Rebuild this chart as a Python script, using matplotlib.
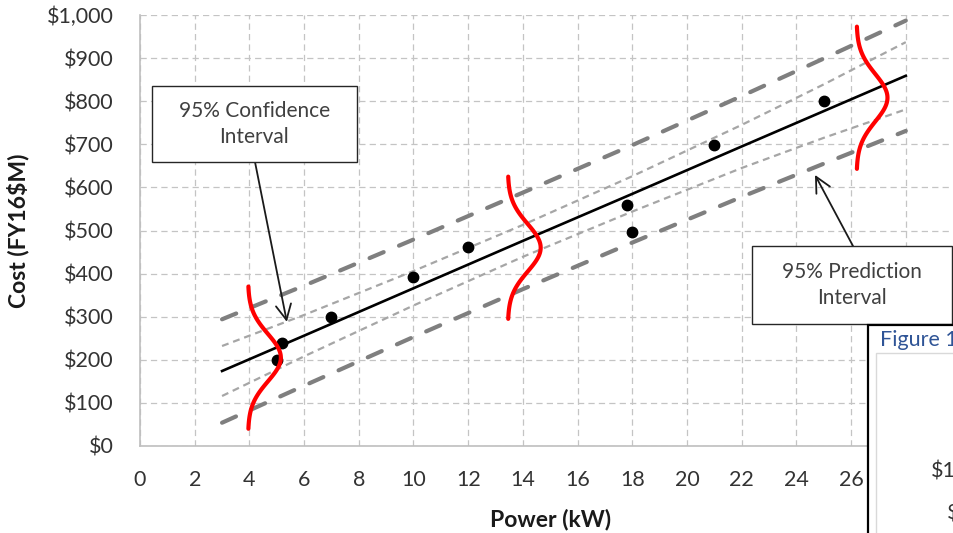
import matplotlib
matplotlib.use("Agg")
import matplotlib.pyplot as plt
from matplotlib.patches import Rectangle
import numpy as np

# data
power_kw = [5.0, 5.2, 7.0, 10.0, 12.0, 17.8, 18.0, 21.0, 25.0]
cost_m = [200, 240, 300, 392, 462, 559, 497, 698, 800]

band_x = [3, 6, 10, 14, 18, 22, 25, 28]
fit_y = [174, 256, 366, 476, 585, 695, 777, 859]
ci_upper = [232, 304, 406, 513, 626, 745, 839, 937]
ci_lower = [116, 208, 326, 439, 544, 645, 715, 781]
pi_upper = [294, 372, 479, 588, 698, 812, 899, 987]
pi_lower = [54, 140, 253, 364, 472, 578, 655, 731]

# red normal curves: base x, centre y, bulge (kW)
bell_x0 = [3.95, 13.45, 26.2]
bell_mid = [205, 460, 808]
bell_bulge = [1.2, 1.2, 1.13]

x_ticks = list(range(0, 31, 2))
# 28 and 30 sit under the corner figure, so they carry no label
x_tick_labels = [str(t) for t in range(0, 27, 2)] + ["", ""]
y_ticks = list(range(0, 1001, 100))
y_tick_labels = ["$0", "$100", "$200", "$300", "$400", "$500",
                 "$600", "$700", "$800", "$900", "$1,000"]

plt.rcParams["font.family"] = ["Lato", "DejaVu Sans"]
plt.rcParams["lines.scale_dashes"] = False

W, H = 954, 533


def fx(px):
    return px / W


def fy(py):
    return 1 - py / H


fig = plt.figure(figsize=(W / 100, H / 100), dpi=100)
ax = fig.add_axes([fx(140), fy(446), (960.5 - 140) / W, (446 - 15) / H])

ax.set_xlim(0, 30)
ax.set_ylim(0, 1000)
ax.set_xticks(x_ticks)
ax.set_xticklabels(x_tick_labels)
ax.set_yticks(y_ticks)
ax.set_yticklabels(y_tick_labels)
ax.tick_params(length=0, labelsize=15.5, labelcolor="#333333")
ax.tick_params(axis="y", pad=19)
ax.tick_params(axis="x", pad=17)

ax.grid(True, color="#C4C4C4", linestyle=(0, (4.5, 3)), linewidth=0.9)
ax.set_axisbelow(True)
for side in ["top", "right"]:
    ax.spines[side].set_visible(False)
for side in ["left", "bottom"]:
    ax.spines[side].set_color("#BFBFBF")
    ax.spines[side].set_linewidth(1.2)

# prediction interval
for band in (pi_upper, pi_lower):
    ax.plot(band_x, band, color="#7F7F7F", linewidth=3.0,
            linestyle=(0, (11, 12)), dash_capstyle="round", zorder=2)
# confidence interval
for band in (ci_upper, ci_lower):
    ax.plot(band_x, band, color="#A6A6A6", linewidth=1.6,
            linestyle=(0, (5, 3.5)), zorder=2)

ax.plot(band_x, fit_y, color="black", linewidth=1.9, zorder=3)
ax.plot(power_kw, cost_m, "o", color="black", markersize=7.5, zorder=4)

for x0, mid, bulge in zip(bell_x0, bell_mid, bell_bulge):
    yy = np.linspace(mid - 165, mid + 165, 120)
    xx = x0 + bulge * np.exp(-0.5 * ((yy - mid) / 55) ** 2)
    ax.plot(xx, yy, color="red", linewidth=3.0, solid_capstyle="round", zorder=5)

ax.set_xlabel("Power (kW)", fontsize=16.5, fontweight="bold", color="#1A1A1A")
ax.set_ylabel("Cost (FY16$M)", fontsize=16.5, fontweight="bold", color="#1A1A1A")
ax.xaxis.label.set_va("center")
ax.yaxis.label.set_va("center")
ax.xaxis.set_label_coords(0.5, (446 - 519) / (446 - 15), transform=ax.transAxes)
ax.yaxis.set_label_coords((18 - 140) / (960.5 - 140), 0.5, transform=ax.transAxes)

# callout boxes
for (x0, y0, x1, y1, txt) in [(152, 86, 357, 162, "95% Confidence\nInterval"),
                              (752, 246, 952, 324, "95% Prediction\nInterval")]:
    fig.patches.append(Rectangle((fx(x0), fy(y1)), fx(x1) - fx(x0), fy(y0) - fy(y1),
                                 transform=fig.transFigure, facecolor="white",
                                 edgecolor="#262626", linewidth=1.0, zorder=6))
    fig.text(fx((x0 + x1) / 2), fy((y0 + y1) / 2), txt, ha="center", va="center",
             fontsize=15, color="#404040", linespacing=1.4, zorder=7)

arrow_style = dict(arrowstyle="->,head_length=1.1,head_width=0.55",
                   color="#1A1A1A", linewidth=1.3, shrinkA=0, shrinkB=0)
ax.annotate("", xy=(5.37, 288), xycoords="data",
            xytext=(fx(255), fy(162)), textcoords="figure fraction",
            arrowprops=arrow_style, zorder=7)
ax.annotate("", xy=(24.68, 629), xycoords="data",
            xytext=(fx(853), fy(246)), textcoords="figure fraction",
            arrowprops=arrow_style, zorder=7)

# cropped neighbouring figure in the corner
fig.patches.append(Rectangle((fx(868), fy(545)), fx(970) - fx(868), fy(325) - fy(545),
                             transform=fig.transFigure, facecolor="white",
                             edgecolor="black", linewidth=1.6, zorder=8))
fig.patches.append(Rectangle((fx(876), fy(545)), fx(970) - fx(876), fy(353) - fy(545),
                             transform=fig.transFigure, facecolor="white",
                             edgecolor="#D9D9D9", linewidth=1.0, zorder=9))
fig.text(fx(880), fy(340), "Figure 1", ha="left", va="center", fontsize=15.5,
         color="#2F5496", zorder=10)
fig.text(fx(931), fy(472), "$1", ha="left", va="center", fontsize=15.5,
         color="#333333", zorder=10)
fig.text(fx(947), fy(513), "$", ha="left", va="center", fontsize=15.5,
         color="#333333", zorder=10)

fig.savefig("out.png", dpi=100)
